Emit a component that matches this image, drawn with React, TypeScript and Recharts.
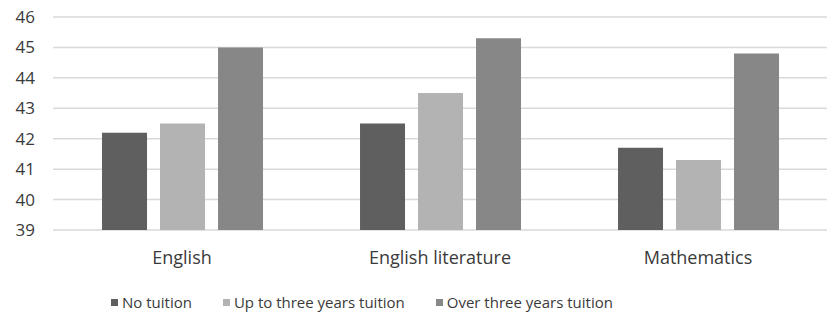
import { BarChart, Bar, XAxis, YAxis, CartesianGrid, Legend } from "recharts";

const subjects = ["English", "English literature", "Mathematics"];
const noTuition = [42.2, 42.5, 41.7];
const upToThree = [42.5, 43.5, 41.3];
const overThree = [45.0, 45.3, 44.8];
const yTicks = [39, 40, 41, 42, 43, 44, 45, 46];

const seriesInfo = [
  { key: "none", name: "No tuition", color: "#5f5f5f" },
  { key: "upTo", name: "Up to three years tuition", color: "#b3b3b3" },
  { key: "over", name: "Over three years tuition", color: "#878787" },
];

const data = subjects.map((s, i) => ({
  name: s,
  none: noTuition[i],
  upTo: upToThree[i],
  over: overThree[i],
}));

const font = "'Open Sans', sans-serif";
const textColor = "#3a3a3a";

function LegendRow() {
  return (
    <div style={{ display: "flex", fontFamily: font, fontSize: 15, color: textColor, paddingLeft: 111 }}>
      {seriesInfo.map((s) => (
        <div key={s.key} style={{ display: "flex", alignItems: "center", marginRight: 31 }}>
          <span style={{ width: 7, height: 7, background: s.color, marginRight: 4 }} />
          <span>{s.name}</span>
        </div>
      ))}
    </div>
  );
}

export default function App() {
  return (
    <div style={{ position: "absolute", left: 0, top: 0, background: "#fff" }}>
      <BarChart
        width={835}
        height={316}
        data={data}
        margin={{ top: 17, right: 8, bottom: 16, left: 0 }}
        barGap={13}
        barCategoryGap="19%"
      >
        <CartesianGrid vertical={false} stroke="#d9d9d9" strokeWidth={1.5} />
        <XAxis
          dataKey="name"
          tickLine={false}
          axisLine={false}
          tickSize={0}
          tickMargin={21}
          height={50}
          tick={{ fill: textColor, fontSize: 18, fontFamily: font }}
        />
        <YAxis
          domain={[39, 46]}
          ticks={yTicks}
          tickLine={false}
          axisLine={false}
          tickSize={0}
          tickMargin={18}
          width={53}
          tick={{ fill: textColor, fontSize: 17, fontFamily: font }}
        />
        <Legend
          verticalAlign="bottom"
          content={() => <LegendRow />}
          wrapperStyle={{ bottom: 4, left: 0, width: 835 }}
        />
        {seriesInfo.map((s) => (
          <Bar key={s.key} dataKey={s.key} name={s.name} fill={s.color} isAnimationActive={false} />
        ))}
      </BarChart>
    </div>
  );
}
